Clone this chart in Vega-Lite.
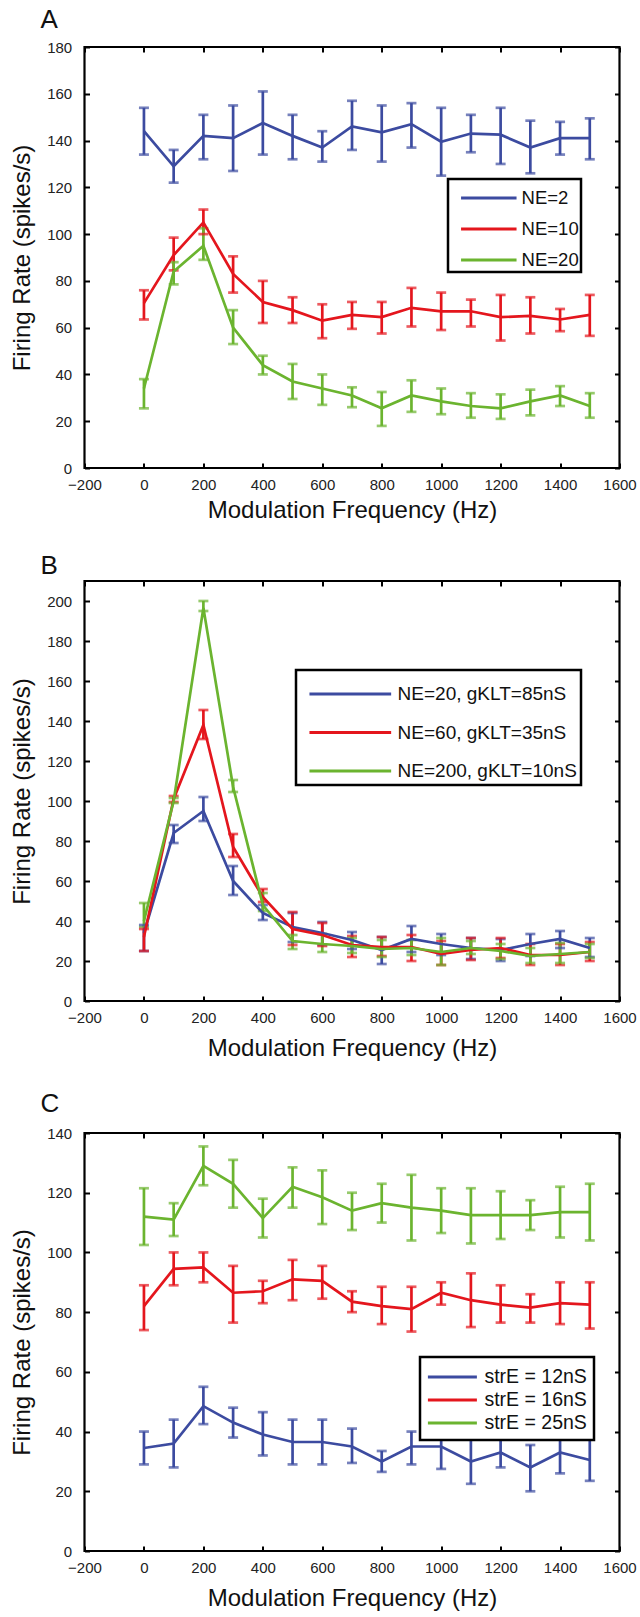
{
  "$schema": "https://vega.github.io/schema/vega-lite/v6.json",
  "background": "white",
  "padding": {"left": 9.5, "top": 5, "right": 5, "bottom": 0},
  "config": {
    "font": "Liberation Sans",
    "view": {"stroke": "black", "strokeWidth": 2.2},
    "axis": {"grid": false, "domain": false, "tickColor": "black", "tickWidth": 2, "tickSize": -5, "labelFont": "Liberation Sans", "labelFontSize": 15, "labelColor": "#222", "labelFlush": false, "labelOverlap": false, "format": "d", "titleFont": "Liberation Sans", "titleFontSize": 24, "titleFontWeight": "normal", "titleColor": "#111"},
    "axisX": {"labelPadding": 14},
    "axisY": {"labelPadding": 17.8},
    "title": {"font": "Liberation Sans", "fontSize": 26, "fontWeight": "normal", "color": "#111", "anchor": "start", "frame": "group", "dx": -44, "baseline": "alphabetic"},
    "legend": {"title": null, "orient": "none", "labelFont": "Liberation Sans", "labelColor": "#111", "labelAlign": "left", "labelBaseline": "middle", "symbolStrokeWidth": 3, "strokeColor": "black", "fillColor": "white", "labelLimit": 400, "rowPadding": 0},
    "concat": {"spacing": 27}
  },
  "datasets": {
    "a": [
      {"s": "NE=2", "f": 0, "m": 144, "lo": 134, "hi": 154},
      {"s": "NE=2", "f": 100, "m": 129, "lo": 122, "hi": 136},
      {"s": "NE=2", "f": 200, "m": 142, "lo": 132, "hi": 151},
      {"s": "NE=2", "f": 300, "m": 141, "lo": 127, "hi": 155},
      {"s": "NE=2", "f": 400, "m": 147.5, "lo": 134, "hi": 161},
      {"s": "NE=2", "f": 500, "m": 142, "lo": 132, "hi": 151},
      {"s": "NE=2", "f": 600, "m": 137, "lo": 131, "hi": 144},
      {"s": "NE=2", "f": 700, "m": 146, "lo": 136, "hi": 157},
      {"s": "NE=2", "f": 800, "m": 143.5, "lo": 131, "hi": 155},
      {"s": "NE=2", "f": 900, "m": 147, "lo": 137, "hi": 156},
      {"s": "NE=2", "f": 1000, "m": 139.5, "lo": 125, "hi": 154},
      {"s": "NE=2", "f": 1100, "m": 143, "lo": 135, "hi": 151},
      {"s": "NE=2", "f": 1200, "m": 142.5, "lo": 130, "hi": 154},
      {"s": "NE=2", "f": 1300, "m": 137, "lo": 126, "hi": 148.5},
      {"s": "NE=2", "f": 1400, "m": 141, "lo": 134, "hi": 148},
      {"s": "NE=2", "f": 1500, "m": 141, "lo": 132, "hi": 149.5},
      {"s": "NE=10", "f": 0, "m": 70.5, "lo": 63.5, "hi": 76},
      {"s": "NE=10", "f": 100, "m": 91, "lo": 84.5, "hi": 98.5},
      {"s": "NE=10", "f": 200, "m": 105, "lo": 100, "hi": 110.5},
      {"s": "NE=10", "f": 300, "m": 83, "lo": 75, "hi": 90.5},
      {"s": "NE=10", "f": 400, "m": 71, "lo": 62, "hi": 80},
      {"s": "NE=10", "f": 500, "m": 67.5, "lo": 62, "hi": 73},
      {"s": "NE=10", "f": 600, "m": 63, "lo": 55.5, "hi": 70},
      {"s": "NE=10", "f": 700, "m": 65.5, "lo": 59.5, "hi": 71},
      {"s": "NE=10", "f": 800, "m": 64.5, "lo": 57.5, "hi": 71},
      {"s": "NE=10", "f": 900, "m": 68.5, "lo": 60.5, "hi": 77},
      {"s": "NE=10", "f": 1000, "m": 67, "lo": 59, "hi": 75},
      {"s": "NE=10", "f": 1100, "m": 67, "lo": 60.5, "hi": 72},
      {"s": "NE=10", "f": 1200, "m": 64.5, "lo": 54.5, "hi": 74},
      {"s": "NE=10", "f": 1300, "m": 65, "lo": 57.5, "hi": 73},
      {"s": "NE=10", "f": 1400, "m": 63.5, "lo": 58.5, "hi": 68},
      {"s": "NE=10", "f": 1500, "m": 65.5, "lo": 56.5, "hi": 74},
      {"s": "NE=20", "f": 0, "m": 34, "lo": 25.5, "hi": 38},
      {"s": "NE=20", "f": 100, "m": 84, "lo": 78.5, "hi": 88},
      {"s": "NE=20", "f": 200, "m": 95, "lo": 89, "hi": 102.5},
      {"s": "NE=20", "f": 300, "m": 60, "lo": 53, "hi": 67.5},
      {"s": "NE=20", "f": 400, "m": 44, "lo": 40, "hi": 48},
      {"s": "NE=20", "f": 500, "m": 37, "lo": 29.5, "hi": 44.5},
      {"s": "NE=20", "f": 600, "m": 34, "lo": 27, "hi": 40},
      {"s": "NE=20", "f": 700, "m": 31, "lo": 26, "hi": 34.5},
      {"s": "NE=20", "f": 800, "m": 25.5, "lo": 18, "hi": 32.5},
      {"s": "NE=20", "f": 900, "m": 31, "lo": 24, "hi": 37.5},
      {"s": "NE=20", "f": 1000, "m": 28.5, "lo": 23, "hi": 34},
      {"s": "NE=20", "f": 1100, "m": 26.5, "lo": 21.5, "hi": 32},
      {"s": "NE=20", "f": 1200, "m": 25.5, "lo": 21, "hi": 31.5},
      {"s": "NE=20", "f": 1300, "m": 28.5, "lo": 22.5, "hi": 33.5},
      {"s": "NE=20", "f": 1400, "m": 31, "lo": 26.5, "hi": 35},
      {"s": "NE=20", "f": 1500, "m": 26.5, "lo": 21.5, "hi": 32}
    ],
    "b": [
      {"s": "NE=20, gKLT=85nS", "f": 0, "m": 34, "lo": 25, "hi": 38},
      {"s": "NE=20, gKLT=85nS", "f": 100, "m": 84, "lo": 79, "hi": 88},
      {"s": "NE=20, gKLT=85nS", "f": 200, "m": 95, "lo": 90, "hi": 102},
      {"s": "NE=20, gKLT=85nS", "f": 300, "m": 60, "lo": 53, "hi": 67.5},
      {"s": "NE=20, gKLT=85nS", "f": 400, "m": 44, "lo": 40.5, "hi": 48},
      {"s": "NE=20, gKLT=85nS", "f": 500, "m": 37, "lo": 29.5, "hi": 44},
      {"s": "NE=20, gKLT=85nS", "f": 600, "m": 34, "lo": 28, "hi": 39.5},
      {"s": "NE=20, gKLT=85nS", "f": 700, "m": 30.5, "lo": 26, "hi": 34.5},
      {"s": "NE=20, gKLT=85nS", "f": 800, "m": 25.5, "lo": 18.5, "hi": 32},
      {"s": "NE=20, gKLT=85nS", "f": 900, "m": 31, "lo": 24.5, "hi": 37.5},
      {"s": "NE=20, gKLT=85nS", "f": 1000, "m": 28.5, "lo": 23, "hi": 33.5},
      {"s": "NE=20, gKLT=85nS", "f": 1100, "m": 26.5, "lo": 21, "hi": 31.5},
      {"s": "NE=20, gKLT=85nS", "f": 1200, "m": 25.5, "lo": 20, "hi": 31},
      {"s": "NE=20, gKLT=85nS", "f": 1300, "m": 28.5, "lo": 22.5, "hi": 33.5},
      {"s": "NE=20, gKLT=85nS", "f": 1400, "m": 31, "lo": 26.5, "hi": 35},
      {"s": "NE=20, gKLT=85nS", "f": 1500, "m": 26.5, "lo": 22, "hi": 31.5},
      {"s": "NE=60, gKLT=35nS", "f": 0, "m": 32, "lo": 25, "hi": 36},
      {"s": "NE=60, gKLT=35nS", "f": 100, "m": 101, "lo": 99.5, "hi": 102.5},
      {"s": "NE=60, gKLT=35nS", "f": 200, "m": 138, "lo": 131, "hi": 145.5},
      {"s": "NE=60, gKLT=35nS", "f": 300, "m": 77, "lo": 72, "hi": 83.5},
      {"s": "NE=60, gKLT=35nS", "f": 400, "m": 52, "lo": 49.5, "hi": 56},
      {"s": "NE=60, gKLT=35nS", "f": 500, "m": 36, "lo": 28, "hi": 44.5},
      {"s": "NE=60, gKLT=35nS", "f": 600, "m": 33, "lo": 27.5, "hi": 39},
      {"s": "NE=60, gKLT=35nS", "f": 700, "m": 28, "lo": 22, "hi": 32.5},
      {"s": "NE=60, gKLT=35nS", "f": 800, "m": 27, "lo": 22.5, "hi": 32},
      {"s": "NE=60, gKLT=35nS", "f": 900, "m": 27, "lo": 20, "hi": 33},
      {"s": "NE=60, gKLT=35nS", "f": 1000, "m": 23.5, "lo": 18, "hi": 30},
      {"s": "NE=60, gKLT=35nS", "f": 1100, "m": 25.5, "lo": 20.5, "hi": 31.5},
      {"s": "NE=60, gKLT=35nS", "f": 1200, "m": 26.5, "lo": 21.5, "hi": 31.5},
      {"s": "NE=60, gKLT=35nS", "f": 1300, "m": 23, "lo": 18, "hi": 28.5},
      {"s": "NE=60, gKLT=35nS", "f": 1400, "m": 23, "lo": 18, "hi": 28.5},
      {"s": "NE=60, gKLT=35nS", "f": 1500, "m": 24.5, "lo": 20, "hi": 29.5},
      {"s": "NE=200, gKLT=10nS", "f": 0, "m": 40, "lo": 37, "hi": 49},
      {"s": "NE=200, gKLT=10nS", "f": 100, "m": 100, "lo": 99, "hi": 101.5},
      {"s": "NE=200, gKLT=10nS", "f": 200, "m": 196.5, "lo": 195, "hi": 200},
      {"s": "NE=200, gKLT=10nS", "f": 300, "m": 107, "lo": 104.5, "hi": 110.5},
      {"s": "NE=200, gKLT=10nS", "f": 400, "m": 48, "lo": 45, "hi": 54},
      {"s": "NE=200, gKLT=10nS", "f": 500, "m": 30, "lo": 26, "hi": 33},
      {"s": "NE=200, gKLT=10nS", "f": 600, "m": 28.5, "lo": 24.5, "hi": 33.5},
      {"s": "NE=200, gKLT=10nS", "f": 700, "m": 27.5, "lo": 24, "hi": 31.5},
      {"s": "NE=200, gKLT=10nS", "f": 800, "m": 26, "lo": 22, "hi": 30.5},
      {"s": "NE=200, gKLT=10nS", "f": 900, "m": 26.5, "lo": 23, "hi": 30.5},
      {"s": "NE=200, gKLT=10nS", "f": 1000, "m": 24.5, "lo": 18, "hi": 31.5},
      {"s": "NE=200, gKLT=10nS", "f": 1100, "m": 26.5, "lo": 23.5, "hi": 30},
      {"s": "NE=200, gKLT=10nS", "f": 1200, "m": 25, "lo": 21, "hi": 28.5},
      {"s": "NE=200, gKLT=10nS", "f": 1300, "m": 22.5, "lo": 19, "hi": 26.5},
      {"s": "NE=200, gKLT=10nS", "f": 1400, "m": 23.5, "lo": 19, "hi": 29},
      {"s": "NE=200, gKLT=10nS", "f": 1500, "m": 24.5, "lo": 21.5, "hi": 28.5}
    ],
    "c": [
      {"s": "strE = 12nS", "f": 0, "m": 34.5, "lo": 29, "hi": 40},
      {"s": "strE = 12nS", "f": 100, "m": 36, "lo": 28, "hi": 44},
      {"s": "strE = 12nS", "f": 200, "m": 48.5, "lo": 42.5, "hi": 55},
      {"s": "strE = 12nS", "f": 300, "m": 43, "lo": 38, "hi": 48},
      {"s": "strE = 12nS", "f": 400, "m": 39, "lo": 32, "hi": 46.5},
      {"s": "strE = 12nS", "f": 500, "m": 36.5, "lo": 29, "hi": 44},
      {"s": "strE = 12nS", "f": 600, "m": 36.5, "lo": 29, "hi": 44},
      {"s": "strE = 12nS", "f": 700, "m": 35, "lo": 29.5, "hi": 41},
      {"s": "strE = 12nS", "f": 800, "m": 30, "lo": 26.5, "hi": 33.5},
      {"s": "strE = 12nS", "f": 900, "m": 35, "lo": 29, "hi": 40},
      {"s": "strE = 12nS", "f": 1000, "m": 35, "lo": 27.5, "hi": 42.5},
      {"s": "strE = 12nS", "f": 1100, "m": 30, "lo": 22.5, "hi": 37.5},
      {"s": "strE = 12nS", "f": 1200, "m": 33, "lo": 28, "hi": 38},
      {"s": "strE = 12nS", "f": 1300, "m": 28, "lo": 20, "hi": 35.5},
      {"s": "strE = 12nS", "f": 1400, "m": 33, "lo": 26, "hi": 40},
      {"s": "strE = 12nS", "f": 1500, "m": 30.5, "lo": 23.5, "hi": 37.5},
      {"s": "strE = 16nS", "f": 0, "m": 82, "lo": 74, "hi": 89},
      {"s": "strE = 16nS", "f": 100, "m": 94.5, "lo": 89, "hi": 100},
      {"s": "strE = 16nS", "f": 200, "m": 95, "lo": 90, "hi": 100},
      {"s": "strE = 16nS", "f": 300, "m": 86.5, "lo": 76.5, "hi": 95.5},
      {"s": "strE = 16nS", "f": 400, "m": 87, "lo": 83, "hi": 90.5},
      {"s": "strE = 16nS", "f": 500, "m": 91, "lo": 84, "hi": 97.5},
      {"s": "strE = 16nS", "f": 600, "m": 90.5, "lo": 84.5, "hi": 95.5},
      {"s": "strE = 16nS", "f": 700, "m": 83.5, "lo": 80, "hi": 87},
      {"s": "strE = 16nS", "f": 800, "m": 82, "lo": 76, "hi": 88.5},
      {"s": "strE = 16nS", "f": 900, "m": 81, "lo": 73.5, "hi": 88.5},
      {"s": "strE = 16nS", "f": 1000, "m": 86.5, "lo": 82.5, "hi": 90},
      {"s": "strE = 16nS", "f": 1100, "m": 84, "lo": 75, "hi": 93},
      {"s": "strE = 16nS", "f": 1200, "m": 82.5, "lo": 76.5, "hi": 89},
      {"s": "strE = 16nS", "f": 1300, "m": 81.5, "lo": 76.5, "hi": 86},
      {"s": "strE = 16nS", "f": 1400, "m": 83, "lo": 76, "hi": 90},
      {"s": "strE = 16nS", "f": 1500, "m": 82.5, "lo": 74.5, "hi": 90},
      {"s": "strE = 25nS", "f": 0, "m": 112, "lo": 102.5, "hi": 121.5},
      {"s": "strE = 25nS", "f": 100, "m": 111, "lo": 105.5, "hi": 116.5},
      {"s": "strE = 25nS", "f": 200, "m": 129, "lo": 122.5, "hi": 135.5},
      {"s": "strE = 25nS", "f": 300, "m": 123, "lo": 115, "hi": 131},
      {"s": "strE = 25nS", "f": 400, "m": 111.5, "lo": 105, "hi": 118},
      {"s": "strE = 25nS", "f": 500, "m": 122, "lo": 115, "hi": 128.5},
      {"s": "strE = 25nS", "f": 600, "m": 118.5, "lo": 109.5, "hi": 127.5},
      {"s": "strE = 25nS", "f": 700, "m": 114, "lo": 107.5, "hi": 120},
      {"s": "strE = 25nS", "f": 800, "m": 116.5, "lo": 110, "hi": 123},
      {"s": "strE = 25nS", "f": 900, "m": 115, "lo": 104, "hi": 126},
      {"s": "strE = 25nS", "f": 1000, "m": 114, "lo": 106.5, "hi": 121.5},
      {"s": "strE = 25nS", "f": 1100, "m": 112.5, "lo": 103, "hi": 121.5},
      {"s": "strE = 25nS", "f": 1200, "m": 112.5, "lo": 104.5, "hi": 120.5},
      {"s": "strE = 25nS", "f": 1300, "m": 112.5, "lo": 107.5, "hi": 117.5},
      {"s": "strE = 25nS", "f": 1400, "m": 113.5, "lo": 105, "hi": 122},
      {"s": "strE = 25nS", "f": 1500, "m": 113.5, "lo": 104, "hi": 123}
    ]
  },
  "resolve": {"scale": {"color": "independent"}},
  "vconcat": [
    {
      "width": 535, "height": 421,
      "title": {"text": "A", "offset": 7},
      "data": {"name": "a"},
      "encoding": {
        "x": {"field": "f", "type": "quantitative", "scale": {"domain": [-200, 1600], "nice": false, "zero": false}},
        "color": {"field": "s", "type": "nominal", "sort": null,
          "scale": {"domain": ["NE=2", "NE=10", "NE=20"], "range": ["#3c4ba0", "#e4161d", "#6bb42f"]},
          "legend": {"legendX": 363.5, "legendY": 132, "padding": 2, "rowPadding": 4, "labelFontSize": 18.5, "symbolType": "M-1.79,0H1.79", "symbolSize": 961, "symbolOffset": 21.8, "labelOffset": 15.8, "encode": {"legend": {"update": {"strokeWidth": {"value": 2.5}}}}}}
      },
      "layer": [
        {"mark": {"type": "rule", "strokeWidth": 2.7},
         "encoding": {
           "x": {"field": "f", "type": "quantitative", "axis": {"orient": "bottom", "title": "Modulation Frequency (Hz)", "values": [-200, 0, 200, 400, 600, 800, 1000, 1200, 1400, 1600], "titlePadding": 6.5}},
           "y": {"field": "lo", "type": "quantitative", "scale": {"domain": [0, 180], "nice": false}, "axis": {"orient": "left", "title": "Firing Rate (spikes/s)", "values": [0, 20, 40, 60, 80, 100, 120, 140, 160, 180], "titlePadding": 12}},
           "y2": {"field": "hi"}}},
        {"mark": {"type": "tick", "orient": "horizontal", "size": 10, "thickness": 2.7},
         "encoding": {"x": {"field": "f", "type": "quantitative", "axis": null}, "y": {"field": "lo", "type": "quantitative", "axis": null}}},
        {"mark": {"type": "tick", "orient": "horizontal", "size": 10, "thickness": 2.7},
         "encoding": {"x": {"field": "f", "type": "quantitative", "axis": null}, "y": {"field": "hi", "type": "quantitative", "axis": null}}},
        {"mark": {"type": "line", "strokeWidth": 2.7},
         "encoding": {
           "x": {"field": "f", "type": "quantitative", "axis": {"orient": "top", "labels": false, "title": null, "values": [-200, 0, 200, 400, 600, 800, 1000, 1200, 1400, 1600]}},
           "y": {"field": "m", "type": "quantitative", "axis": {"orient": "right", "labels": false, "title": null, "values": [0, 20, 40, 60, 80, 100, 120, 140, 160, 180]}}}}
      ],
      "resolve": {"axis": {"x": "independent", "y": "independent"}}
    },
    {
      "width": 535, "height": 420,
      "title": {"text": "B", "offset": 1.5},
      "data": {"name": "b"},
      "encoding": {
        "x": {"field": "f", "type": "quantitative", "scale": {"domain": [-200, 1600], "nice": false, "zero": false}},
        "color": {"field": "s", "type": "nominal", "sort": null,
          "scale": {"domain": ["NE=20, gKLT=85nS", "NE=60, gKLT=35nS", "NE=200, gKLT=10nS"], "range": ["#3c4ba0", "#e4161d", "#6bb42f"]},
          "legend": {"legendX": 211.5, "legendY": 89, "padding": 3.5, "rowPadding": 7.5, "labelFontSize": 19, "symbolType": "M-2.15,0H2.15", "symbolSize": 1444, "symbolOffset": 30.3, "labelOffset": 26.8, "encode": {"legend": {"update": {"strokeWidth": {"value": 2.5}}}}}}
      },
      "layer": [
        {"mark": {"type": "rule", "strokeWidth": 2.7},
         "encoding": {
           "x": {"field": "f", "type": "quantitative", "axis": {"orient": "bottom", "title": "Modulation Frequency (Hz)", "values": [-200, 0, 200, 400, 600, 800, 1000, 1200, 1400, 1600], "titlePadding": 11.5}},
           "y": {"field": "lo", "type": "quantitative", "scale": {"domain": [0, 210], "nice": false}, "axis": {"orient": "left", "title": "Firing Rate (spikes/s)", "values": [0, 20, 40, 60, 80, 100, 120, 140, 160, 180, 200], "titlePadding": 12}},
           "y2": {"field": "hi"}}},
        {"mark": {"type": "tick", "orient": "horizontal", "size": 10, "thickness": 2.7},
         "encoding": {"x": {"field": "f", "type": "quantitative", "axis": null}, "y": {"field": "lo", "type": "quantitative", "axis": null}}},
        {"mark": {"type": "tick", "orient": "horizontal", "size": 10, "thickness": 2.7},
         "encoding": {"x": {"field": "f", "type": "quantitative", "axis": null}, "y": {"field": "hi", "type": "quantitative", "axis": null}}},
        {"mark": {"type": "line", "strokeWidth": 2.7},
         "encoding": {
           "x": {"field": "f", "type": "quantitative", "axis": {"orient": "top", "labels": false, "title": null, "values": [-200, 0, 200, 400, 600, 800, 1000, 1200, 1400, 1600]}},
           "y": {"field": "m", "type": "quantitative", "axis": {"orient": "right", "labels": false, "title": null, "values": [0, 20, 40, 60, 80, 100, 120, 140, 160, 180, 200]}}}}
      ],
      "resolve": {"axis": {"x": "independent", "y": "independent"}}
    },
    {
      "width": 535, "height": 418,
      "title": {"text": "C", "offset": 9.3},
      "data": {"name": "c"},
      "encoding": {
        "x": {"field": "f", "type": "quantitative", "scale": {"domain": [-200, 1600], "nice": false, "zero": false}},
        "color": {"field": "s", "type": "nominal", "sort": null,
          "scale": {"domain": ["strE = 12nS", "strE = 16nS", "strE = 25nS"], "range": ["#3c4ba0", "#e4161d", "#6bb42f"]},
          "legend": {"legendX": 335.5, "legendY": 224, "padding": 7, "labelFontSize": 19.5, "symbolType": "M-2.13,0H2.13", "symbolSize": 529, "symbolOffset": 12.4, "labelOffset": 19, "encode": {"legend": {"update": {"strokeWidth": {"value": 2.5}}}}}}
      },
      "layer": [
        {"mark": {"type": "rule", "strokeWidth": 2.7},
         "encoding": {
           "x": {"field": "f", "type": "quantitative", "axis": {"orient": "bottom", "title": "Modulation Frequency (Hz)", "values": [-200, 0, 200, 400, 600, 800, 1000, 1200, 1400, 1600], "titlePadding": 11.5}},
           "y": {"field": "lo", "type": "quantitative", "scale": {"domain": [0, 140], "nice": false}, "axis": {"orient": "left", "title": "Firing Rate (spikes/s)", "values": [0, 20, 40, 60, 80, 100, 120, 140], "titlePadding": 12}},
           "y2": {"field": "hi"}}},
        {"mark": {"type": "tick", "orient": "horizontal", "size": 10, "thickness": 2.7},
         "encoding": {"x": {"field": "f", "type": "quantitative", "axis": null}, "y": {"field": "lo", "type": "quantitative", "axis": null}}},
        {"mark": {"type": "tick", "orient": "horizontal", "size": 10, "thickness": 2.7},
         "encoding": {"x": {"field": "f", "type": "quantitative", "axis": null}, "y": {"field": "hi", "type": "quantitative", "axis": null}}},
        {"mark": {"type": "line", "strokeWidth": 2.7},
         "encoding": {
           "x": {"field": "f", "type": "quantitative", "axis": {"orient": "top", "labels": false, "title": null, "values": [-200, 0, 200, 400, 600, 800, 1000, 1200, 1400, 1600]}},
           "y": {"field": "m", "type": "quantitative", "axis": {"orient": "right", "labels": false, "title": null, "values": [0, 20, 40, 60, 80, 100, 120, 140]}}}}
      ],
      "resolve": {"axis": {"x": "independent", "y": "independent"}}
    }
  ]
}
